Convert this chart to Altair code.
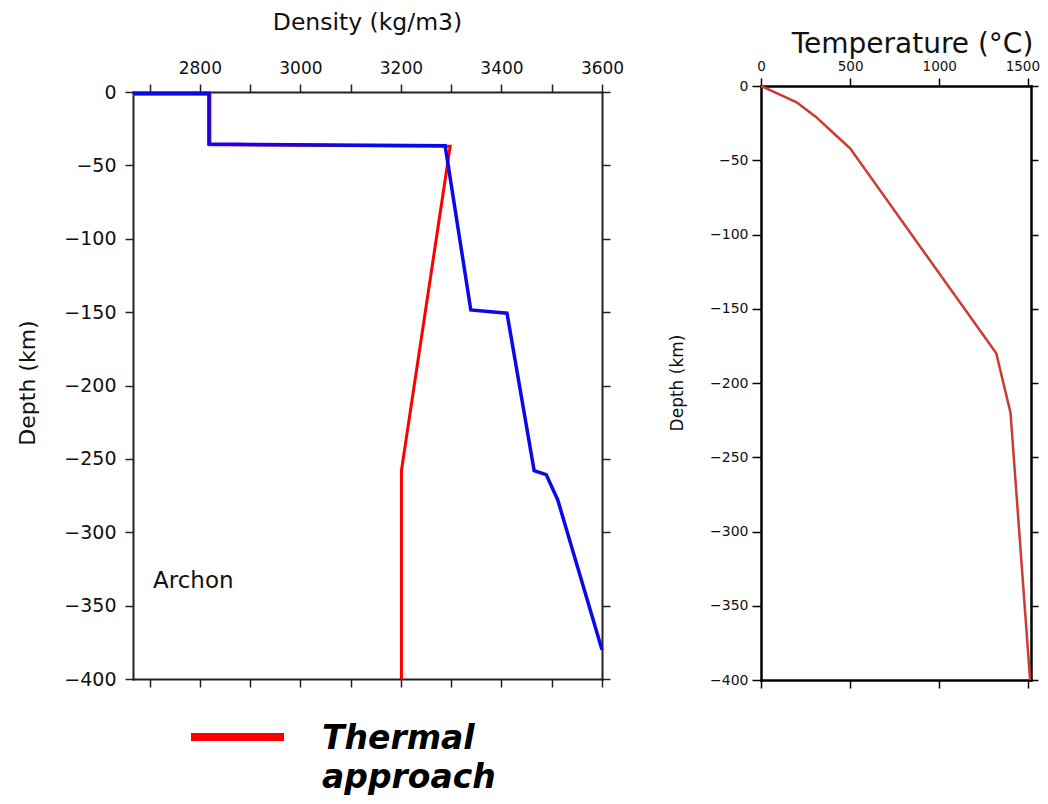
import altair as alt
import pandas as pd

# ---------------- data ----------------
# Left panel: density profiles (kg/m3) versus depth (km)
thermal_density = [2667, 2820, 2820, 3298, 3201, 3201]
thermal_depth = [-1.5, -1.5, -36, -37, -258, -400]

blue_density = [2667, 2818, 2818, 3288, 3339, 3411, 3465, 3489, 3512, 3600]
blue_depth = [-0.8, -0.8, -35.5, -36.7, -148.5, -150.7, -258, -260.7, -278, -380]

# Right panel: temperature (C) versus depth (km)
temperature = [0, 200, 310, 400, 500, 1320, 1400, 1510]
temp_depth = [0, -11, -21, -31, -42, -180, -220, -400]

density_ticks = [2700, 2800, 2900, 3000, 3100, 3200, 3300, 3400, 3500, 3600]
depth_ticks = [-400, -350, -300, -250, -200, -150, -100, -50, 0]
temp_ticks = [0, 500, 1000, 1500]

density_title = "Density (kg/m3)"
temp_title = "Temperature (°C)"
depth_title = "Depth (km)"
panel_label = "Archon"
legend_label = ["Thermal", "approach"]

# ---------------- tables ----------------
red_df = pd.DataFrame({"density": thermal_density, "depth": thermal_depth,
                       "i": list(range(len(thermal_density)))})
blue_df = pd.DataFrame({"density": blue_density, "depth": blue_depth,
                        "i": list(range(len(blue_density)))})
temp_df = pd.DataFrame({"T": temperature, "tdepth": temp_depth,
                        "i": list(range(len(temperature)))})
one = pd.DataFrame({"k": [0]})

FONT = "DejaVu Sans"
W, H = 898, 587            # whole drawing frame (both panels)
LW = 469                   # left panel width
RX0, RX1 = 628, 898        # right panel horizontal extent
RY0, RY1 = -6, 588         # right panel vertical extent

xs_l = alt.Scale(domain=[2667, 3600], range=[0, LW], nice=False, zero=False)
ys_l = alt.Scale(domain=[-400, 0], range=[H, 0], nice=False, zero=False)
xs_r = alt.Scale(domain=[0, 1515], range=[RX0, RX1], nice=False, zero=False)
ys_r = alt.Scale(domain=[-400, 0], range=[RY1, RY0], nice=False, zero=False)


def axis(orient, values, labels, color, dwidth, tsize, fsize=12, pad=4, offset=0, **kw):
    return alt.Axis(orient=orient, values=values, labels=labels, title=None,
                    grid=False, ticks=True, domain=True, tickSize=tsize,
                    tickColor=color, tickWidth=1.5, domainColor=color,
                    domainWidth=dwidth, domainCap="square", offset=offset,
                    labelFont=FONT, labelFontSize=fsize, labelColor="#111111",
                    labelPadding=pad, labelFlush=False, labelOverlap=False,
                    format="d", **kw)


# ---------------- left panel ----------------
red = alt.Chart(red_df).mark_line(color="#ff0000", strokeWidth=3).encode(
    x=alt.X("density:Q", scale=xs_l,
            axis=axis("top", density_ticks, True, "#222222", 2, 8, 17, 7,
                      labelExpr="datum.value % 200 == 0 ? datum.label : ''")),
    y=alt.Y("depth:Q", scale=ys_l,
            axis=axis("left", depth_ticks, True, "#222222", 2, 8, 19, 9)),
    order="i:Q",
)
blue = alt.Chart(blue_df).mark_line(color="#0a0ae8", strokeWidth=3.5).encode(
    x=alt.X("density:Q", scale=xs_l,
            axis=axis("bottom", density_ticks, False, "#222222", 2, 8)),
    y=alt.Y("depth:Q", scale=ys_l,
            axis=axis("right", depth_ticks, False, "#222222", 2, 8, offset=LW - W)),
    order="i:Q",
)

# ---------------- right panel ----------------
temp = alt.Chart(temp_df).mark_line(color="#cc3a33", strokeWidth=2.5).encode(
    x=alt.X("T:Q", scale=xs_r,
            axis=axis("top", temp_ticks, True, "#000000", 2.5, 8, 13.5, 5, offset=-RY0,
                      labelOffset={"condition": {"test": "datum.value == 1500", "value": -6},
                                   "value": 0})),
    y=alt.Y("tdepth:Q", scale=ys_r,
            axis=axis("left", depth_ticks, True, "#000000", 2.5, 9, 14, 4, offset=-RX0)),
    order="i:Q",
)
temp_ghost = alt.Chart(temp_df).mark_line(opacity=0).encode(
    x=alt.X("T:Q", scale=xs_r,
            axis=axis("bottom", temp_ticks, False, "#000000", 2.5, 8, offset=RY1 - H)),
    y=alt.Y("tdepth:Q", scale=ys_r,
            axis=axis("right", depth_ticks, False, "#000000", 2.5, 7)),
    order="i:Q",
)

# ---------------- text annotations ----------------
def label(text, x, y, size, angle=0, align="center", **kw):
    return alt.Chart(one).mark_text(
        text=text, font=FONT, fontSize=size, color="#111111", angle=angle,
        align=align, baseline="middle", **kw).encode(x=alt.value(x), y=alt.value(y))


title_l = label(density_title, 234.5, -69, 23.5)
ytitle_l = label(depth_title, -105, 291, 22, angle=270)
archon = label(panel_label, 20, 488.5, 23, align="left")
title_r = label(temp_title, 779.5, -47.5, 28)
ytitle_r = label(depth_title, 544.5, 291, 17, angle=270)

legend_rule = alt.Chart(one).mark_rule(color="#ff0000", strokeWidth=8).encode(
    x=alt.value(58), x2=alt.value(151), y=alt.value(645))
legend_text = alt.Chart(one).mark_text(
    text=legend_label, font=FONT, fontSize=33, fontWeight="bold",
    fontStyle="italic", color="#000000", align="left", baseline="alphabetic",
    lineHeight=39).encode(x=alt.value(189), y=alt.value(657))

chart = alt.layer(
    red, blue, temp, temp_ghost,
    title_l, ytitle_l, archon, title_r, ytitle_r, legend_rule, legend_text,
).resolve_scale(
    x="independent", y="independent"
).resolve_axis(
    x="independent", y="independent"
).properties(
    width=W, height=H,
    autosize=alt.AutoSizeParams(type="none"),
    padding={"left": 125, "top": 84, "right": 9, "bottom": 117},
    background="white",
).configure_view(stroke=None)

chart.save("out.html", embed_options={"renderer": "svg", "actions": False})
